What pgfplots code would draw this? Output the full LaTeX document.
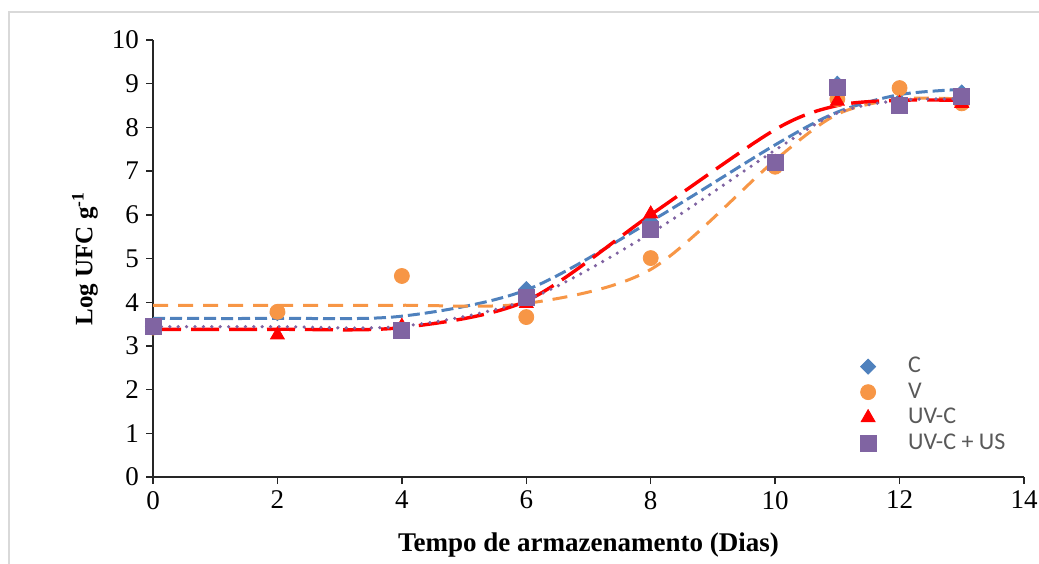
\documentclass[border=0pt]{standalone}
\usepackage{fontspec}
\setmainfont{Liberation Serif}
\newfontfamily\calibri{Carlito}
\usepackage{pgfplots}
\pgfplotsset{compat=1.18}
\definecolor{cC}{HTML}{4F81BD}
\definecolor{cV}{HTML}{F79646}
\definecolor{cU}{HTML}{FF0000}
\definecolor{cS}{HTML}{8064A2}
\definecolor{frame}{HTML}{D9D9D9}
\definecolor{legtext}{HTML}{595959}
\begin{document}
\begin{tikzpicture}[x=1pt,y=1pt]
\useasboundingbox (0,0) rectangle (519.5,281.5);
\draw[frame, line width=0.7pt] (4.5,-5) rectangle (530,275.5);
\begin{axis}[
  at={(76.5pt,43pt)}, anchor=south west,
  scale only axis, width=435.5pt, height=218.5pt,
  xmin=0, xmax=14, ymin=0, ymax=10,
  xtick={0,2,...,14}, ytick={0,1,...,10},
  axis lines=left,
  axis line style={-, black!85, line width=0.7pt},
  tick align=outside, major tick length=3.5pt,
  tick style={black!85, line width=0.7pt},
  ticklabel style={font=\fontsize{13.5}{15}\selectfont},
  /pgf/number format/assume math mode=true,
  clip=false,
  xlabel={\bfseries Tempo de armazenamento (Dias)},
  ylabel={\bfseries Log UFC g\textsuperscript{-1}},
  xlabel style={font=\fontsize{13.5}{15}\selectfont, at={(axis description cs:0.5,-0.156)}, anchor=center},
  ylabel style={font=\fontsize{12.5}{14}\selectfont, at={(axis description cs:-0.078,0.5)}, anchor=center},
  legend style={at={(axis description cs:0.8045,0.293)}, anchor=north west,
    draw=none, fill=none, font=\calibri\fontsize{12}{13}\selectfont,
    text=legtext, row sep=-0.5pt},
  legend cell align=left,
]
% fitted curves
\addplot[forget plot, cC, line width=1.5pt, dash pattern=on 6pt off 2.5pt, smooth, tension=0.5]
  coordinates {(0,3.63)(2,3.63)(4,3.68)(6,4.28)(8,5.85)(10,7.6)(11,8.35)(12,8.75)(13,8.87)};
\addplot[forget plot, cV, line width=1.5pt, dash pattern=on 7.5pt off 5pt, smooth, tension=0.5]
  coordinates {(0,3.93)(2,3.93)(4,3.93)(6,3.97)(8,4.75)(10,7.25)(11,8.3)(12,8.65)(13,8.65)};
\addplot[forget plot, cU, line width=1.7pt, dash pattern=on 14pt off 5pt, smooth, tension=0.5]
  coordinates {(0,3.38)(2,3.38)(4,3.42)(6,4.03)(8,6.0)(10,7.95)(11,8.5)(12,8.62)(13,8.62)};
\addplot[forget plot, cS, line width=1.8pt, dash pattern=on 0pt off 4.2pt, line cap=round, smooth, tension=0.5]
  coordinates {(0,3.44)(2,3.44)(4,3.45)(6,4.05)(8,5.58)(10,7.48)(11,8.33)(12,8.62)(13,8.65)};
% measured values
\addplot[only marks, mark=diamond*, mark size=3.75pt, mark options={xscale=1.33, cC, fill=cC}]
  coordinates {(0,3.45)(2,3.75)(4,3.4)(6,4.3)(8,5.85)(10,7.2)(11,9.0)(12,8.6)(13,8.8)};
\addlegendentry{\hspace{14pt}C}
\addplot[only marks, mark=*, mark size=3.75pt, mark options={cV, fill=cV}]
  coordinates {(0,3.42)(2,3.78)(4,4.6)(6,3.66)(8,5.01)(10,7.1)(11,8.65)(12,8.9)(13,8.55)};
\addlegendentry{\hspace{14pt}V}
\addplot[only marks, mark=triangle*, mark size=4pt, mark options={cU, fill=cU}]
  coordinates {(0,3.4)(2,3.25)(4,3.45)(6,3.97)(8,6.02)(10,7.2)(11,8.6)(12,8.55)(13,8.55)};
\addlegendentry{\hspace{14pt}UV-C}
\addplot[only marks, mark=square*, mark size=4pt, mark options={cS, fill=cS}]
  coordinates {(0,3.45)(4,3.36)(6,4.12)(8,5.67)(10,7.21)(11,8.92)(12,8.51)(13,8.72)};
\addlegendentry{\hspace{14pt}UV-C + US}
\end{axis}
\end{tikzpicture}
\end{document}
